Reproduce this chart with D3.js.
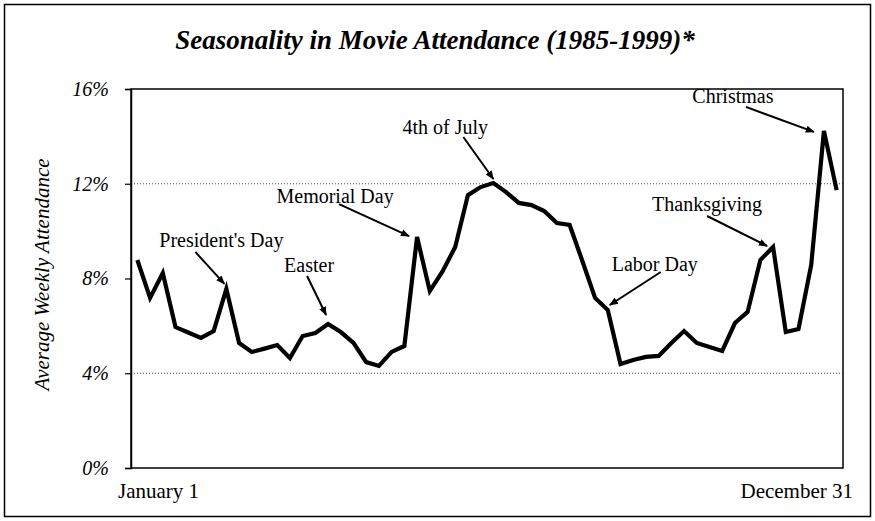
<!DOCTYPE html>
<html>
<head>
<meta charset="utf-8">
<script src="https://cdn.jsdelivr.net/npm/d3@7"></script>
<style>
  body { margin: 0; background: #fff; }
  text { font-family: "Liberation Serif", "Times New Roman", serif; fill: #000; }
</style>
</head>
<body>
<div id="chart"></div>
<script>
// weekly share of annual attendance, Jan 1 .. Dec 31
const attendance = [8.78, 7.18, 8.23, 5.95, 5.72, 5.49, 5.78, 7.56, 5.28, 4.90,
    5.04, 5.19, 4.64, 5.57, 5.70, 6.08, 5.74, 5.28, 4.47, 4.31,
    4.90, 5.15, 9.75, 7.47, 8.30, 9.33, 11.52, 11.86, 12.03, 11.65,
    11.19, 11.10, 10.85, 10.34, 10.26, 8.74, 7.18, 6.67, 4.39, 4.56,
    4.69, 4.73, 5.28, 5.78, 5.28, 5.11, 4.94, 6.12, 6.59, 8.78,
    9.33, 5.74, 5.87, 8.57, 14.23, 11.73];
const yTicks = [0, 4, 8, 12, 16];
const gridValues = [4, 12];
const xLabels = ["January 1", "December 31"];
const holidays = ["President's Day", "Easter", "Memorial Day", "4th of July", "Labor Day", "Thanksgiving", "Christmas"];
const holidayWeek = [7, 15, 22, 28, 37, 50, 54];

const W = 875, H = 521;
const margin = { top: 89, right: 32, bottom: 53, left: 131 };
const width = W - margin.left - margin.right,
    height = H - margin.top - margin.bottom;

const svg = d3.select("#chart").append("svg")
    .attr("width", W)
    .attr("height", H);

svg.append("defs").append("marker")
    .attr("id", "arrow")
    .attr("viewBox", "0 0 10 10")
    .attr("refX", 9).attr("refY", 5)
    .attr("markerWidth", 9).attr("markerHeight", 9)
    .attr("markerUnits", "userSpaceOnUse")
    .attr("orient", "auto")
    .append("path")
    .attr("d", "M0,1L10,5L0,9Z")
    .attr("fill", "#000");

// outer frame
svg.append("rect")
    .attr("x", 4.5).attr("y", 4.5)
    .attr("width", W - 9).attr("height", H - 9)
    .attr("fill", "none").attr("stroke", "#000").attr("stroke-width", 1.5);

svg.append("text")
    .attr("x", 435).attr("y", 49)
    .attr("text-anchor", "middle")
    .style("font-size", "27px").style("font-weight", "bold").style("font-style", "italic")
    .text("Seasonality in Movie Attendance (1985-1999)*");

const g = svg.append("g")
    .attr("transform", "translate(" + margin.left + "," + margin.top + ")");

const x = d3.scalePoint()
    .domain(d3.range(attendance.length))
    .range([0, width])
    .padding(0.5);

const y = d3.scaleLinear()
    .domain([0, 16])
    .range([height, 0]);

// dotted gridlines
g.selectAll(".grid")
    .data(gridValues)
    .enter().append("line")
    .attr("class", "grid")
    .attr("x1", 0).attr("x2", width)
    .attr("y1", d => y(d)).attr("y2", d => y(d))
    .attr("stroke", "#444").attr("stroke-width", 1)
    .attr("stroke-dasharray", "1,2");

// plot border
g.append("rect")
    .attr("width", width).attr("height", height)
    .attr("fill", "none").attr("stroke", "#000").attr("stroke-width", 1.5);

const yAxis = d3.axisLeft(y)
    .tickValues(yTicks)
    .tickFormat(d => d + "%")
    .tickSize(6)
    .tickPadding(16);

g.append("g")
    .attr("class", "y-axis")
    .call(yAxis)
    .call(s => s.select(".domain").attr("stroke-width", 1.5))
    .call(s => s.selectAll(".tick line").attr("stroke-width", 1.2))
    .call(s => s.selectAll(".tick text")
        .style("font-size", "20px").style("font-style", "italic")
        .style("font-family", "Liberation Serif, serif"));

svg.append("text")
    .attr("transform", "translate(49," + (margin.top + height / 2 - 4) + ") rotate(-90)")
    .attr("text-anchor", "middle")
    .style("font-size", "21px").style("font-style", "italic")
    .text("Average Weekly Attendance");

// x end labels
g.append("text")
    .attr("x", -13).attr("y", height + 30)
    .style("font-size", "21px")
    .text(xLabels[0]);
g.append("text")
    .attr("x", width + 10).attr("y", height + 30)
    .attr("text-anchor", "end")
    .style("font-size", "21px")
    .text(xLabels[1]);

const line = d3.line()
    .x((d, i) => x(i))
    .y(d => y(d));

g.append("path")
    .datum(attendance)
    .attr("fill", "none")
    .attr("stroke", "#000")
    .attr("stroke-width", 4.2)
    .attr("stroke-linejoin", "miter")
    .attr("d", line);

// annotation placement: label offset (dx, dy) and arrow start offset from the point
const annot = [
    { tx: -5, ty: -42, ax: -31, ay: -37, ex: -2, ey: -5 },
    { tx: -19, ty: -52, ax: -21, ay: -48, ex: -2, ey: -9 },
    { tx: -82, ty: -34, ax: -78, ay: -33, ex: -8, ey: -1 },
    { tx: -48, ty: -49, ax: -30, ay: -46, ex: 0, ey: -4 },
    { tx: 47, ty: -39, ax: 53, ay: -38, ex: 2, ey: -5 },
    { tx: -66, ty: -36, ax: -66, ay: -31, ex: -6, ey: -1 },
    { tx: -91, ty: -28, ax: -78, ay: -24, ex: -10, ey: 1 }
];

holidays.forEach((name, k) => {
    const px = x(holidayWeek[k]), py = y(attendance[holidayWeek[k]]);
    const a = annot[k];
    g.append("text")
        .attr("x", px + a.tx).attr("y", py + a.ty)
        .attr("text-anchor", "middle")
        .style("font-size", "20px")
        .text(name);
    g.append("line")
        .attr("x1", px + a.ax).attr("y1", py + a.ay)
        .attr("x2", px + a.ex).attr("y2", py + a.ey)
        .attr("stroke", "#000").attr("stroke-width", 2)
        .attr("marker-end", "url(#arrow)");
});
</script>
</body>
</html>
